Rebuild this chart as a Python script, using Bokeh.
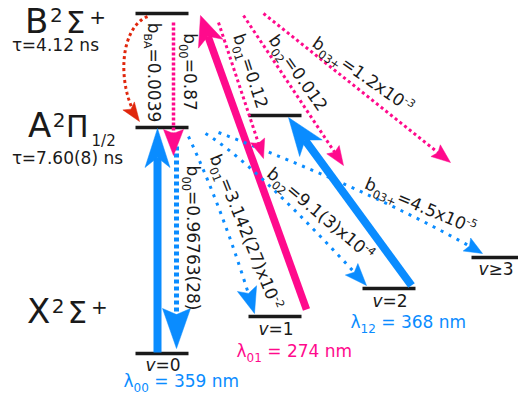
import math
import numpy as np
from bokeh.plotting import figure
from bokeh.models import Range1d, ColumnDataSource
from bokeh.core.properties import value, field
from bokeh.embed import file_html
from bokeh.resources import INLINE

# ---------------- data ----------------
# electronic states (term symbol pieces) and lifetimes
STATE_MAIN = ["B", "A", "X"]
STATE_SUP = ["2", "2", "2"]
STATE_SYM = ["Σ", "Π", "Σ"]
STATE_TAIL = ["+", "1/2", "+"]
LIFETIMES = ["4.12 ns", "7.60(8) ns", ""]

# vibrational levels: (state, v) -> diagram position (x extent, energy position)
LEVEL_KEYS = ["B0", "A0", "A1", "X0", "X1", "X2", "X3"]
LEVEL_X0 = [135, 135, 248, 135, 248, 362, 471]
LEVEL_X1 = [188, 188, 301, 188, 301, 415, 520]
LEVEL_E = [13, 127, 115, 353, 316, 288, 257]
V_LABELS = ["=0", "=1", "=2", "≥3"]

# branching ratios
B_SUB = ["00", "01", "02", "03+"]
B_MANT = ["0.87", "0.12", "0.012", "1.2x10"]
B_EXP = ["", "", "", "-3"]
BA_RATIO = "0.0039"
A_SUB = ["00", "01", "02", "03+"]
A_MANT = ["0.96763(28)", "3.142(27)x10", "9.1(3)x10", "4.5x10"]
A_EXP = ["", "-2", "-4", "-5"]

# laser wavelengths
LAMBDA_SUB = ["00", "01", "12"]
LAMBDA_NM = [359, 274, 368]

BLUE = "#0a8cff"
MAGENTA = "#ff0a8c"
RED = "#e0260c"
INK = "#1a1a1a"
FONT = "DejaVu Sans"
NBSP = "\u00a0"
BASE_FIX = 0.38   # renderer places the alphabetic baseline 0.38 em low; compensate

# ---------------- figure ----------------
W, H = 518, 399
p = figure(width=W, height=H, x_range=Range1d(0, W), y_range=Range1d(H, 0),
           output_backend="svg", toolbar_location=None, min_border=0,
           x_axis_location=None, y_axis_location=None)
p.grid.visible = False
p.outline_line_color = None
p.background_fill_color = "white"
p.border_fill_color = "white"

L = {k: (x0, x1, e) for k, x0, x1, e in zip(LEVEL_KEYS, LEVEL_X0, LEVEL_X1, LEVEL_E)}

# levels
p.segment(x0=LEVEL_X0, y0=LEVEL_E, x1=LEVEL_X1, y1=LEVEL_E, line_color=INK, line_width=3.5)

# ---------------- helpers ----------------
heads = dict(xs=[], ys=[], color=[])


def unit(dx, dy):
    n = math.hypot(dx, dy)
    return dx / n, dy / n


def head(tip, u, Lh, hw, notch, color):
    tx, ty = tip
    ux, uy = u
    px, py = -uy, ux
    bx, by = tx - Lh * ux, ty - Lh * uy
    nx, ny = tx - (Lh - notch) * ux, ty - (Lh - notch) * uy
    heads["xs"].append([tx, bx + hw * px, nx, bx - hw * px])
    heads["ys"].append([ty, by + hw * py, ny, by - hw * py])
    heads["color"].append(color)


def arrow(start, tip, color, width, dash="solid", Lh=20, hw=8, notch=4, cut=None):
    u = unit(tip[0] - start[0], tip[1] - start[1])
    c = (Lh - notch) if cut is None else cut
    end = (tip[0] - c * u[0], tip[1] - c * u[1])
    p.line([start[0], end[0]], [start[1], end[1]], line_color=color, line_width=width,
           line_dash=dash, line_cap="butt")
    head(tip, u, Lh, hw, notch, color)


def curve_arrow(pts, color, width, dash, Lh, hw, notch):
    t = np.linspace(0, 1, 120)
    P = [np.array(q, dtype=float) for q in pts]
    if len(P) == 3:
        c = ((1 - t) ** 2)[:, None] * P[0] + (2 * t * (1 - t))[:, None] * P[1] + (t ** 2)[:, None] * P[2]
        tan = P[2] - P[1]
    else:
        c = (((1 - t) ** 3)[:, None] * P[0] + (3 * t * (1 - t) ** 2)[:, None] * P[1]
             + (3 * t ** 2 * (1 - t))[:, None] * P[2] + (t ** 3)[:, None] * P[3])
        tan = P[3] - P[2]
    tip = P[-1]
    d = np.hypot(c[:, 0] - tip[0], c[:, 1] - tip[1])
    keep = d > 0.55 * Lh
    p.line(c[keep, 0], c[keep, 1], line_color=color, line_width=width, line_dash=dash, line_cap="butt")
    head(tuple(tip), unit(*tan), Lh, hw, notch, color)


ADV = {**{d: 0.636 for d in "0123456789"}, ".": 0.318, "=": 0.838, "+": 0.838, "-": 0.361,
       "(": 0.390, ")": 0.390, "/": 0.337, " ": 0.318, NBSP: 0.318, "b": 0.635, "x": 0.592,
       "n": 0.634, "m": 0.974, "s": 0.521, "v": 0.592, "B": 0.686, "A": 0.684, "X": 0.685,
       "Σ": 0.632, "Π": 0.752, "λ": 0.592, "τ": 0.58, "≥": 0.838}


def adv(s, size):
    return sum(ADV.get(ch, 0.62) for ch in s) * size


texts = dict(x=[], y=[], text=[], angle=[], size=[], color=[], style=[])


def gap(px):
    return (" ", px / 0.318, 0)


def rich(segs, x, y, phi=0.0, anchor="start", color=INK):
    a = math.radians(phi)
    dx, dy = math.cos(a), math.sin(a)
    nx, ny = -math.sin(a), math.cos(a)
    total = sum(adv(s[0], s[1]) for s in segs)
    main = segs[0][1]
    if anchor == "center":
        bx = x - total / 2 * dx + 0.365 * main * nx
        by = y - total / 2 * dy + 0.365 * main * ny
    elif anchor == "mid":
        bx, by = x - total / 2 * dx, y - total / 2 * dy
    else:
        bx, by = x, y
    for seg in segs:
        s, sz, sh = seg[0], seg[1], seg[2]
        st = seg[3] if len(seg) > 3 else "normal"
        if s.strip():
            off = sh - BASE_FIX * sz
            texts["x"].append(bx + off * nx)
            texts["y"].append(by + off * ny)
            texts["text"].append(s)
            texts["angle"].append(-a)
            texts["size"].append(f"{sz}px")
            texts["color"].append(color)
            texts["style"].append(st)
        w = adv(s, sz)
        bx += w * dx
        by += w * dy


def blabel(sub, mant, exp):
    segs = [("b", 17, 0), (sub, 11.5, 4.5), ("=" + mant, 17, 0)]
    if exp:
        segs.append((exp, 11, -7))
    return segs


# ---------------- arrows ----------------
xB0 = L["B0"]; xA0 = L["A0"]; xA1 = L["A1"]
xX0 = L["X0"]; xX1 = L["X1"]; xX2 = L["X2"]; xX3 = L["X3"]

# pump / repump lasers (thick solid)
arrow((157, xX0[2] - 1), (157, xA0[2] + 1), BLUE, 8, Lh=39, hw=12.5, notch=10)
arrow((411, xX2[2] - 3), (288, xA1[2] + 2), BLUE, 8, Lh=38, hw=14, notch=10)
arrow((306, xX1[2] - 7), (200, xB0[2] + 2), MAGENTA, 7.5, Lh=30, hw=13, notch=8)

# A -> X decays (blue dotted)
arrow((176, 146), (176, xX0[2] - 5), BLUE, 5, dash="4 3", Lh=40, hw=14, notch=6, cut=20)
curve_arrow([(188, 136), (224, 213), (254, xX1[2] - 3)], BLUE, 3, "3 6", 26, 10, 5)
curve_arrow([(205, 133), (253, 162), (366, xX2[2] - 3)], BLUE, 3, "3 6", 22, 8.5, 4)
curve_arrow([(218, 132), (378, 193), (482, xX3[2] - 4)], BLUE, 3, "3 6", 18, 7.5, 3)

# B -> A decays (magenta dotted)
arrow((173, 22), (173, 155), MAGENTA, 3.5, dash="3 2", Lh=26, hw=10, notch=4, cut=13)
arrow((218, 22), (263, 158), MAGENTA, 3, dash="3 3", Lh=19, hw=7.5, notch=3, cut=10)
arrow((243, 15), (343, 165), MAGENTA, 3, dash="3 3", Lh=19, hw=7.5, notch=3, cut=10)
arrow((263, 13), (450, 162), MAGENTA, 3, dash="3 3", Lh=19, hw=7.5, notch=3, cut=10)

# B -> A branching (red dotted curve)
curve_arrow([(147, 16), (118, 28), (116, 88), (139, 121)], RED, 3, "3 3", 19, 7, 4)

p.patches(xs="xs", ys="ys", fill_color="color", line_color="color", line_width=0.5,
          source=ColumnDataSource(heads))

# ---------------- texts ----------------
# state labels (B, A, X)
rich([(STATE_MAIN[0], 34, 0), gap(1.5), (STATE_SUP[0], 20, -11.5), gap(3),
      (STATE_SYM[0], 31, 0), gap(4), (STATE_TAIL[0], 20, -9.5)], 24.6, 33.5)
rich([(STATE_MAIN[1], 34, 0), gap(1.5), (STATE_SUP[1], 20, -10), gap(0.5),
      (STATE_SYM[1], 30, 0), gap(3), (STATE_TAIL[1], 15, 8.5)], 27.5, 137.5)
rich([(STATE_MAIN[2], 34, 0), gap(1.5), (STATE_SUP[2], 20, -10.5), gap(3),
      (STATE_SYM[2], 31, 0), gap(4), (STATE_TAIL[2], 20, -9)], 26.5, 323.5)
rich([("τ", 17, 0), ("=" + LIFETIMES[0], 17, 0)], 11.5, 51)
rich([("τ", 17, 0), ("=" + LIFETIMES[1], 17, 0)], 11.5, 164)

# branching ratio labels
rich([("b", 17, 0), ("BA", 11, 4.5), ("=" + BA_RATIO, 17, 0)], 153.5, 72, 90, "center")
up_pos = [(189, 71.5, 90), (250, 70.5, 72), (297.5, 72.5, 55), (362.5, 74.5, 35)]
for (x, y, ph), s, m, e in zip(up_pos, B_SUB, B_MANT, B_EXP):
    rich(blabel(s, m, e), x, y, ph, "center")
lo_pos = [(192, 237.5, 90), (245.5, 231.5, 68), (320, 213.5, 40), (420, 205.5, 23)]
for (x, y, ph), s, m, e in zip(lo_pos, A_SUB, A_MANT, A_EXP):
    rich(blabel(s, m, e), x, y, ph, "center")

# vibrational level labels
for key, lab, dy in zip(["X0", "X1", "X2", "X3"], V_LABELS, [18, 19, 19, 18]):
    x0, x1, e = L[key]
    cx = (x0 + min(x1, 518)) / 2 + 1
    rich([("v", 17, 0, "italic"), (lab, 17, 0)], cx, e + dy, 0, "mid")

# wavelengths
lam_pos = [(123, 387, BLUE), (236, 357, MAGENTA), (350, 328, BLUE)]
for (x, y, c), s, nm in zip(lam_pos, LAMBDA_SUB, LAMBDA_NM):
    rich([("λ", 17, 0), (s, 12, 4.5), (f"{NBSP}={NBSP}{nm}{NBSP}nm", 17, 0)], x, y, 0, "start", c)

p.text(x="x", y="y", text="text", angle="angle", text_font_size=field("size"),
       text_color="color", text_font_style=field("style"), text_font=value(FONT),
       text_baseline="alphabetic", text_align="left", source=ColumnDataSource(texts))

open("out.html", "w").write(file_html(p, INLINE))
